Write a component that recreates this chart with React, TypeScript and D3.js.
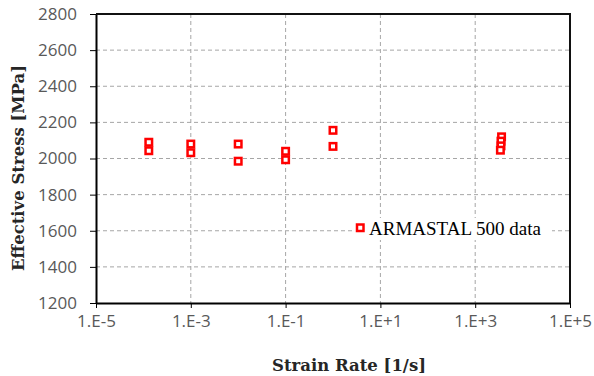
import React, { useEffect, useRef } from "react";
import * as d3 from "d3";

// Strain rate groups [1/s] and the effective stress measured at each [MPa]
const strainRates = [1.3e-4, 1.3e-4, 1e-3, 1e-3, 1e-2, 1e-2, 1e-1, 1e-1, 1, 1, 3.6e3, 3.5e3, 3.5e3, 3.4e3];
const stresses = [2090, 2043, 2080, 2032, 2080, 1985, 2040, 1993, 2156, 2067, 2120, 2096, 2070, 2046];

const xTicks = [1e-5, 1e-3, 1e-1, 1e1, 1e3, 1e5];
const xTickLabels = ["1.E-5", "1.E-3", "1.E-1", "1.E+1", "1.E+3", "1.E+5"];
const yTicks = [1200, 1400, 1600, 1800, 2000, 2200, 2400, 2600, 2800];

const seriesName = "ARMASTAL 500 data";
const xTitle = "Strain Rate [1/s]";
const yTitle = "Effective Stress [MPa]";

const W = 594;
const H = 376;
const M = { left: 96, right: 24, top: 14, bottom: 73 };

export default function App() {
  const ref = useRef<SVGSVGElement>(null);

  useEffect(() => {
    const svg = d3.select(ref.current);
    svg.selectAll("*").remove();

    const x = d3.scaleLog().domain([1e-5, 1e5]).range([M.left, W - M.right]);
    const y = d3.scaleLinear().domain([1200, 2800]).range([H - M.bottom, M.top]);

    const grid = svg.append("g");
    // horizontal dashed grid
    grid
      .selectAll("line.h")
      .data(yTicks.slice(1, -1))
      .join("line")
      .attr("x1", M.left)
      .attr("x2", W - M.right)
      .attr("y1", (d) => y(d))
      .attr("y2", (d) => y(d))
      .attr("stroke", "#a6a6a6")
      .attr("stroke-width", 1)
      .attr("stroke-dasharray", "4,3");
    // vertical dashed grid
    grid
      .selectAll("line.v")
      .data(xTicks.slice(1, -1))
      .join("line")
      .attr("x1", (d) => x(d))
      .attr("x2", (d) => x(d))
      .attr("y1", M.top)
      .attr("y2", H - M.bottom)
      .attr("stroke", "#a6a6a6")
      .attr("stroke-width", 1)
      .attr("stroke-dasharray", "4,3");

    // y axis
    const yAxis = svg
      .append("g")
      .attr("transform", `translate(${M.left},0)`)
      .call(
        d3
          .axisLeft(y)
          .tickValues(yTicks)
          .tickFormat(d3.format("d"))
          .tickSize(6)
          .tickSizeOuter(0)
          .tickPadding(13)
      );
    yAxis.select(".domain").attr("stroke", "#000").attr("stroke-width", 2);
    yAxis.selectAll(".tick line").attr("stroke", "#000").attr("stroke-width", 1);
    yAxis
      .selectAll(".tick text")
      .attr("fill", "#595959")
      .attr("font-family", "'Open Sans', sans-serif")
      .attr("font-size", 17);

    // x axis
    const xAxis = svg
      .append("g")
      .attr("transform", `translate(0,${H - M.bottom})`)
      .call(
        d3
          .axisBottom(x)
          .tickValues(xTicks)
          .tickFormat((_, i) => xTickLabels[i])
          .tickSize(5)
          .tickSizeOuter(0)
          .tickPadding(7)
      );
    xAxis.select(".domain").attr("stroke", "#000").attr("stroke-width", 2);
    xAxis.selectAll(".tick line").attr("stroke", "#000").attr("stroke-width", 1);
    xAxis
      .selectAll(".tick text")
      .attr("fill", "#595959")
      .attr("font-family", "'Open Sans', sans-serif")
      .attr("font-size", 17);

    // top and right frame
    svg
      .append("path")
      .attr("d", `M${M.left},${M.top}H${W - M.right}V${H - M.bottom}`)
      .attr("fill", "none")
      .attr("stroke", "#111")
      .attr("stroke-width", 2);

    // legend
    const lg = svg.append("g");
    lg.append("rect")
      .attr("x", 352)
      .attr("y", 218)
      .attr("width", 200)
      .attr("height", 22)
      .attr("fill", "#fff");
    lg.append("rect")
      .attr("x", 357)
      .attr("y", 224.5)
      .attr("width", 6.5)
      .attr("height", 6.5)
      .attr("fill", "#fff")
      .attr("stroke", "#ff0000")
      .attr("stroke-width", 2.5);
    lg.append("text")
      .attr("x", 369)
      .attr("y", 234.5)
      .attr("font-family", "'Liberation Serif', serif")
      .attr("font-size", 19)
      .attr("fill", "#000")
      .text(seriesName);

    // data markers
    svg
      .append("g")
      .selectAll("rect")
      .data(strainRates.map((r, i) => [r, stresses[i]]))
      .join("rect")
      .attr("x", (d) => x(d[0]) - 3.25)
      .attr("y", (d) => y(d[1]) - 3.25)
      .attr("width", 6.5)
      .attr("height", 6.5)
      .attr("fill", "#fff")
      .attr("stroke", "#ff0000")
      .attr("stroke-width", 2.5);

    // axis titles
    svg
      .append("text")
      .attr("x", 349)
      .attr("y", 371)
      .attr("text-anchor", "middle")
      .attr("font-family", "'DejaVu Serif', serif")
      .attr("font-weight", "bold")
      .attr("font-size", 16.5)
      .attr("fill", "#262626")
      .text(xTitle);
    svg
      .append("text")
      .attr("transform", `translate(24,168) rotate(-90)`)
      .attr("text-anchor", "middle")
      .attr("font-family", "'DejaVu Serif', serif")
      .attr("font-weight", "bold")
      .attr("font-size", 16.5)
      .attr("fill", "#262626")
      .text(yTitle);
  }, []);

  return (
    <svg
      ref={ref}
      width={W}
      height={H}
      style={{ position: "absolute", left: 0, top: 0, background: "#fff" }}
    />
  );
}
